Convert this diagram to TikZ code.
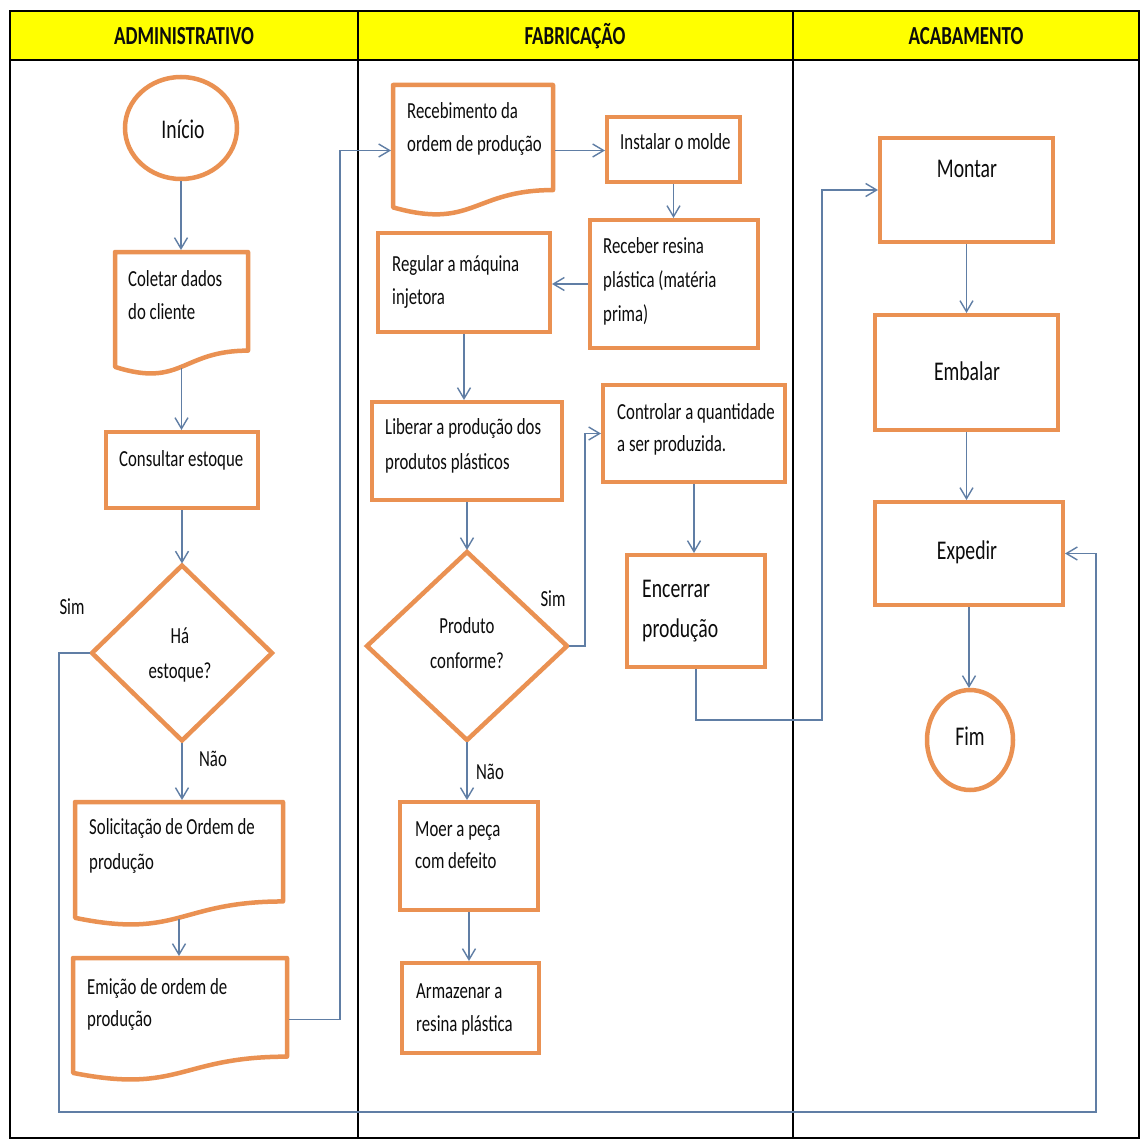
\documentclass[tikz,border=0pt]{standalone}
\usepackage{fontspec}
\setmainfont{Carlito}[FakeStretch=0.73]
\usetikzlibrary{shapes.geometric,arrows.meta,calc}
\definecolor{orng}{RGB}{234,145,82}
\definecolor{conn}{RGB}{96,126,165}
\definecolor{ylw}{RGB}{255,255,0}
\definecolor{ink}{RGB}{12,12,12}
\newcommand{\fbody}{\fontsize{23}{33}\selectfont}
\newcommand{\fbig}{\fontsize{27}{40}\selectfont}
\newcommand{\fhead}{\fontsize{26}{30}\selectfont\bfseries}
\newcommand{\FS}{\rule{0pt}{20pt}}
\newcommand{\FB}{\rule{0pt}{24pt}}
\newcommand{\docdraw}[1]{\draw[orng, line width=4.5pt, fill=white, line join=round] (#1.north west) -- (#1.north east) -- ($(#1.north east)!0.802!(#1.south east)$) .. controls ($(#1.north)!0.802!(#1.south)$) and ($(#1.north)!1.1075!(#1.south)$) .. ($(#1.north west)!0.934!(#1.south west)$) -- cycle;}
\begin{document}
\begin{tikzpicture}[x=1pt,y=-1pt,
  box/.style={draw=orng, line width=4.5pt, fill=white, rectangle, inner sep=0pt, outer sep=0pt, anchor=north west},
  docbox/.style={rectangle, draw=none, inner sep=0pt, outer sep=0pt, anchor=north west},
  dia/.style={diamond, draw=orng, line width=4.5pt, fill=white, inner sep=0pt, outer sep=0pt},
  term/.style={ellipse, draw=orng, line width=4.5pt, fill=white, inner sep=0pt, outer sep=0pt},
  tl/.style={inner sep=0pt, anchor=north west, align=left, text=ink, font=\fbody},
  tc/.style={inner sep=0pt, anchor=north, align=center, text=ink, font=\fbody},
  hd/.style={inner sep=0pt, anchor=base, text=ink, font=\fhead},
  arr/.style={draw=conn, line width=1.4pt, shorten <=2pt, shorten >=2pt, -{Straight Barb[length=11pt,width=13pt]}},
  lane/.style={draw=black, line width=2.5pt},
]
\useasboundingbox (0,0) rectangle (1141,1140);
\fill[white] (0,0) rectangle (1141,1140);
% header and lanes
\fill[ylw] (10,11) rectangle (1139,60);
\draw[lane] (10,11) rectangle (1139,1138);
\draw[lane] (10,60) -- (1139,60);
\draw[lane] (358,11) -- (358,1138);
\draw[lane] (793,11) -- (793,1138);
\node[hd] (h1) at (184,45) {ADMINISTRATIVO};
\node[hd] (h2) at (575,45) {FABRICAÇÃO};
\node[hd] (h3) at (966,45) {ACABAMENTO};
% shapes
\node[term, minimum width=112, minimum height=102] (ini) at (181,128) {};
\node[docbox, minimum width=133, minimum height=123] (col) at (115,252) {};
\node[box, minimum width=152, minimum height=76] (cons) at (106,432) {};
\node[dia, minimum width=180, minimum height=175] (has) at (182,653) {};
\node[docbox, minimum width=208, minimum height=124] (sol) at (75,802) {};
\node[docbox, minimum width=214, minimum height=123] (emi) at (73,958) {};
\node[docbox, minimum width=160, minimum height=131] (rec) at (393,85) {};
\node[box, minimum width=133, minimum height=65] (ins) at (607,117) {};
\node[box, minimum width=168, minimum height=128] (rcb) at (590,220) {};
\node[box, minimum width=172, minimum height=99] (reg) at (378,233) {};
\node[box, minimum width=190, minimum height=98] (lib) at (372,402) {};
\node[box, minimum width=182, minimum height=97] (ctl) at (603,385) {};
\node[dia, minimum width=200, minimum height=188] (prod) at (467,646) {};
\node[box, minimum width=138, minimum height=108] (moer) at (400,802) {};
\node[box, minimum width=137, minimum height=90] (arm) at (402,963) {};
\node[box, minimum width=138, minimum height=112] (enc) at (627,555) {};
\node[box, minimum width=173, minimum height=104] (mon) at (880,138) {};
\node[box, minimum width=183, minimum height=115] (emb) at (875,315) {};
\node[box, minimum width=188, minimum height=103] (exp) at (875,502) {};
\node[term, minimum width=86, minimum height=100] (fim) at (970,740) {};
\docdraw{col}
\docdraw{sol}
\docdraw{emi}
\docdraw{rec}
% texts
\node[tc, font=\fbig] (t24) at (183,114) {\FB Início};
\node[tl] (t1) at (128,266) {\FS Coletar dados\\do cliente};
\node[tl] (t2) at (119,446) {\FS Consultar estoque};
\node[tc, font=\fontsize{23}{35}\selectfont] (t3) at (180,623) {\FS Há\\estoque?};
\node[tc] (t4) at (72,594) {\FS Sim};
\node[tc] (t5) at (213,746) {\FS Não};
\node[tl, font=\fontsize{23}{35}\selectfont] (t6) at (89,814) {\FS Solicitação de Ordem de\\produção};
\node[tl, font=\fontsize{23}{32}\selectfont] (t7) at (87,974) {\FS Emição de ordem de\\produção};
\node[tl] (t8) at (407,98) {\FS Recebimento da\\ordem de produção};
\node[tl] (t9) at (620,129) {\FS Instalar o molde};
\node[tl, font=\fontsize{23}{34}\selectfont] (t10) at (603,233) {\FS Receber resina\\plástica (matéria\\prima)};
\node[tl] (t11) at (392,251) {\FS Regular a máquina\\injetora};
\node[tl, font=\fontsize{23}{35}\selectfont] (t12) at (385,414) {\FS Liberar a produção dos\\produtos plásticos};
\node[tl, font=\fontsize{23}{32}\selectfont] (t13) at (617,399) {\FS Controlar a quantidade\\a ser produzida.};
\node[tc, font=\fontsize{23}{35}\selectfont] (t14) at (467,613) {\FS Produto\\conforme?};
\node[tc] (t15) at (553,586) {\FS Sim};
\node[tc] (t16) at (490,759) {\FS Não};
\node[tl, font=\fontsize{23}{32}\selectfont] (t17) at (415,816) {\FS Moer a peça\\com defeito};
\node[tl] (t18) at (416,978) {\FS Armazenar a\\resina plástica};
\node[tl, font=\fbig] (t19) at (642,573) {\FB Encerrar\\produção};
\node[tc, font=\fbig] (t20) at (967,153) {\FB Montar};
\node[tc, font=\fbig] (t21) at (967,356) {\FB Embalar};
\node[tc, font=\fbig] (t22) at (967,535) {\FB Expedir};
\node[tc, font=\fbig] (t23) at (970,721) {\FB Fim};
% connectors
\coordinate (ka) at (340,0);
\coordinate (kb) at (585,0);
\coordinate (kc) at (822,720);
\coordinate (kd) at (59,1112);
\coordinate (ke) at (1096,1112);
\draw[arr] (ini.south) -- (ini.south |- col.north);
\draw[arr] ($(col.north)!0.93!(col.south)$) -- (col.south |- cons.north);
\draw[arr] (cons.south) -- (has.north);
\draw[arr] (has.south) -- (has.south |- sol.north);
\draw[arr] ($(sol.north)!0.93!(sol.south)$) -- (sol.south |- emi.north);
\draw[arr] (emi.east) -| (ka |- rec.west) -- (rec.west);
\draw[arr] (rec.east) -- (rec.east -| ins.west);
\draw[arr] (ins.south) -- (ins.south |- rcb.north);
\draw[arr] (rcb.west) -- (rcb.west -| reg.east);
\draw[arr] (reg.south) -- (reg.south |- lib.north);
\draw[arr] (lib.south) -- (prod.north);
\draw[arr] (prod.east) -| (kb |- ctl.west) -- (ctl.west);
\draw[arr] (prod.south) -- (prod.south |- moer.north);
\draw[arr] (moer.south) -- (moer.south |- arm.north);
\draw[arr] (ctl.south) -- (ctl.south |- enc.north);
\draw[arr] (enc.south) |- (kc) |- (mon.west);
\draw[arr] (mon.south) -- (mon.south |- emb.north);
\draw[arr] (emb.south) -- (emb.south |- exp.north);
\draw[arr] (exp.south) -- (exp.south |- fim.north);
\draw[arr] (has.west) -| (kd) -- (ke) |- (exp.east);
\end{tikzpicture}
\end{document}
